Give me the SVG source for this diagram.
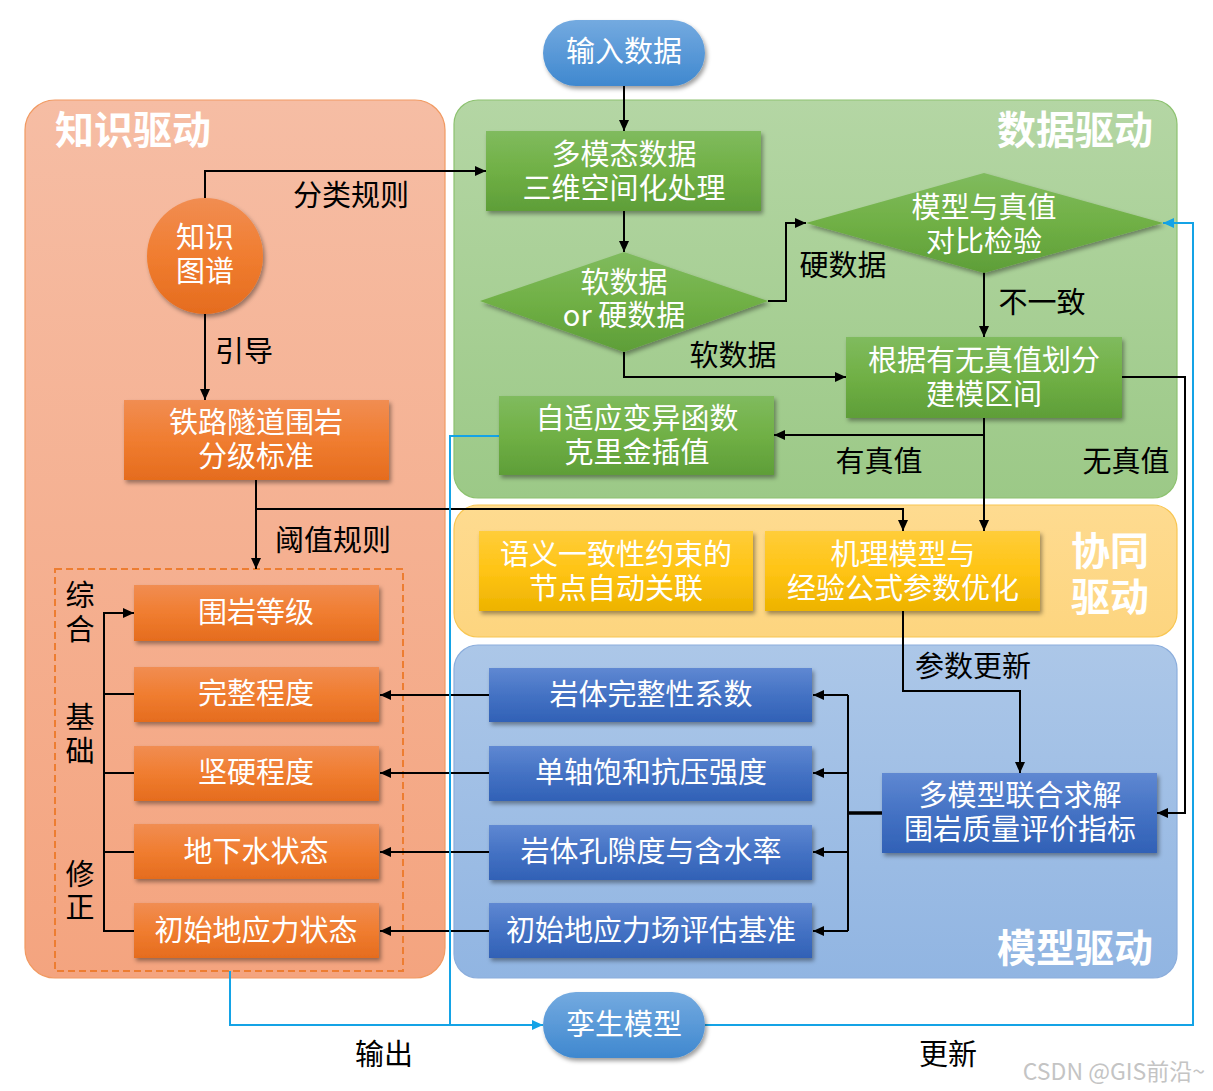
<svg xmlns="http://www.w3.org/2000/svg" width="1213" height="1091" viewBox="0 0 1213 1091">
  <defs>
    <linearGradient id="gPanelK" x1="0" y1="0" x2="0" y2="1">
      <stop offset="0" stop-color="#F6BDA4"/>
      <stop offset="1" stop-color="#F4A47F"/>
    </linearGradient>
    <linearGradient id="gPanelD" x1="0" y1="0" x2="0" y2="1">
      <stop offset="0" stop-color="#B4D6A4"/>
      <stop offset="1" stop-color="#9CC987"/>
    </linearGradient>
    <linearGradient id="gPanelC" x1="0" y1="0" x2="0" y2="1">
      <stop offset="0" stop-color="#FEDB90"/>
      <stop offset="1" stop-color="#FDD57F"/>
    </linearGradient>
    <linearGradient id="gPanelM" x1="0" y1="0" x2="0" y2="1">
      <stop offset="0" stop-color="#ACC7E8"/>
      <stop offset="1" stop-color="#91B5E2"/>
    </linearGradient>
    <linearGradient id="gGreen" x1="0" y1="0" x2="0" y2="1">
      <stop offset="0" stop-color="#80BB5E"/>
      <stop offset="0.5" stop-color="#70B045"/>
      <stop offset="1" stop-color="#5E9E38"/>
    </linearGradient>
    <linearGradient id="gOrange" x1="0" y1="0" x2="0" y2="1">
      <stop offset="0" stop-color="#F18D52"/>
      <stop offset="0.5" stop-color="#F07D30"/>
      <stop offset="1" stop-color="#E56C1E"/>
    </linearGradient>
    <linearGradient id="gYellow" x1="0" y1="0" x2="0" y2="1">
      <stop offset="0" stop-color="#FFCD3A"/>
      <stop offset="0.5" stop-color="#FFC414"/>
      <stop offset="1" stop-color="#EDB300"/>
    </linearGradient>
    <linearGradient id="gBlue" x1="0" y1="0" x2="0" y2="1">
      <stop offset="0" stop-color="#5F88D2"/>
      <stop offset="0.5" stop-color="#4472C4"/>
      <stop offset="1" stop-color="#3161B6"/>
    </linearGradient>
    <linearGradient id="gPill" x1="0" y1="0" x2="0" y2="1">
      <stop offset="0" stop-color="#74AAE0"/>
      <stop offset="1" stop-color="#3F88CF"/>
    </linearGradient>
    <filter id="shadow" x="-20%" y="-20%" width="140%" height="150%">
      <feDropShadow dx="2" dy="3" stdDeviation="2.2" flood-color="#000" flood-opacity="0.38"/>
    </filter>
    <marker id="arrow" markerUnits="userSpaceOnUse" markerWidth="11" markerHeight="10" refX="11" refY="5" orient="auto">
      <path d="M0,0 L11,5 L0,10 z" fill="#000"/>
    </marker>
    <marker id="arrowBlue" markerUnits="userSpaceOnUse" markerWidth="11" markerHeight="10" refX="11" refY="5" orient="auto">
      <path d="M0,0 L11,5 L0,10 z" fill="#14A3E6"/>
    </marker>
    <style>
      text { font-family: "Noto Sans CJK SC", "Noto Sans", sans-serif; }
      .nt { fill: #fff; font-size: 29px; text-anchor: middle; }
      .lb { fill: #000; font-size: 29px; text-anchor: middle; }
      .title { fill: #fff; font-size: 39px; font-weight: bold; }
      .green { fill: url(#gGreen); filter: url(#shadow); }
      .orange { fill: url(#gOrange); filter: url(#shadow); }
      .yellow { fill: url(#gYellow); filter: url(#shadow); }
      .blue { fill: url(#gBlue); filter: url(#shadow); }
      .pill { fill: url(#gPill); filter: url(#shadow); }
      .ln { fill: none; stroke: #000; stroke-width: 2; }
      .lnb { fill: none; stroke: #14A3E6; stroke-width: 2; }
    </style>
  </defs>

  <rect width="1213" height="1091" fill="#fff"/>

  <!-- background panels -->
  <g id="panels">
    <rect id="panel-knowledge" x="25" y="100" width="420" height="878" rx="30" fill="url(#gPanelK)" stroke="#F19A62" stroke-width="1.2"/>
    <rect id="panel-data" x="454" y="100" width="723" height="398" rx="24" fill="url(#gPanelD)" stroke="#8DC270" stroke-width="1.2"/>
    <rect id="panel-collab" x="454" y="505" width="723" height="132" rx="24" fill="url(#gPanelC)" stroke="#F8C653" stroke-width="1.2"/>
    <rect id="panel-model" x="454" y="645" width="723" height="333" rx="24" fill="url(#gPanelM)" stroke="#8CAEDC" stroke-width="1.2"/>
    <text class="title" x="55" y="144">知识驱动</text>
    <text class="title" x="1153" y="144" text-anchor="end">数据驱动</text>
    <text class="title" text-anchor="middle"><tspan x="1110" y="565">协同</tspan><tspan x="1110" dy="46">驱动</tspan></text>
    <text class="title" x="1153" y="962" text-anchor="end">模型驱动</text>
    <rect id="group-indicators" x="55" y="569" width="348" height="402" fill="none" stroke="#ED7D31" stroke-width="2" stroke-dasharray="7,4"/>
  </g>

  <!-- connectors -->
  <g id="connectors">
    <path class="ln" d="M624,86 V131" marker-end="url(#arrow)"/>
    <path class="ln" d="M624,211 V252" marker-end="url(#arrow)"/>
    <path class="ln" d="M205,199 V171 H486" marker-end="url(#arrow)"/>
    <path class="ln" d="M205,313 V400" marker-end="url(#arrow)"/>
    <path class="ln" d="M768,301 H786 V223 H806" marker-end="url(#arrow)"/>
    <path class="ln" d="M624,352 V377 H846" marker-end="url(#arrow)"/>
    <path class="ln" d="M984,272 V337" marker-end="url(#arrow)"/>
    <path class="ln" d="M984,418 V531" marker-end="url(#arrow)"/>
    <path class="ln" d="M984,435 H774" marker-end="url(#arrow)"/>
    <path class="ln" d="M1122,377 H1185 V813 H1157" marker-end="url(#arrow)"/>
    <path class="ln" d="M256,480 V569" marker-end="url(#arrow)"/>
    <path class="ln" d="M256,509 H903 V531" marker-end="url(#arrow)"/>
    <path class="ln" d="M903,611 V691 H1020 V773" marker-end="url(#arrow)"/>
    <!-- indicators into the grade box -->
    <path class="ln" d="M134,931 H104 V613 H134" marker-end="url(#arrow)"/>
    <path class="ln" d="M104,694 H134 M104,773 H134 M104,852 H134"/>
    <!-- blue parameters to indicators -->
    <path class="ln" d="M489,695 H380" marker-end="url(#arrow)"/>
    <path class="ln" d="M489,773 H380" marker-end="url(#arrow)"/>
    <path class="ln" d="M489,852 H380" marker-end="url(#arrow)"/>
    <path class="ln" d="M489,931 H380" marker-end="url(#arrow)"/>
    <!-- joint solution fan-out -->
    <path d="M882,813 H848" fill="none" stroke="#000" stroke-width="3.5"/>
    <path class="ln" d="M848,695 V931"/>
    <path class="ln" d="M848,695 H813" marker-end="url(#arrow)"/>
    <path class="ln" d="M848,773 H813" marker-end="url(#arrow)"/>
    <path class="ln" d="M848,852 H813" marker-end="url(#arrow)"/>
    <path class="ln" d="M848,931 H813" marker-end="url(#arrow)"/>
    <!-- twin model loop -->
    <path class="lnb" d="M499,436 H450 V1025"/>
    <path class="lnb" d="M230,971 V1025 H543" marker-end="url(#arrowBlue)"/>
    <path class="lnb" d="M705,1025 H1193 V223 H1163" marker-end="url(#arrowBlue)"/>
  </g>

  <!-- connector labels -->
  <g id="labels">
    <text class="lb" x="351" y="206">分类规则</text>
    <text class="lb" x="244" y="362">引导</text>
    <text class="lb" x="843" y="276">硬数据</text>
    <text class="lb" x="1042" y="313">不一致</text>
    <text class="lb" x="733" y="366">软数据</text>
    <text class="lb" x="879" y="472">有真值</text>
    <text class="lb" x="1126" y="472">无真值</text>
    <text class="lb" x="333" y="551">阈值规则</text>
    <text class="lb" x="973" y="677">参数更新</text>
    <text class="lb" x="384" y="1065">输出</text>
    <text class="lb" x="948" y="1065">更新</text>
    <text class="lb"><tspan x="80" y="606">综</tspan><tspan x="80" dy="34">合</tspan></text>
    <text class="lb"><tspan x="80" y="728">基</tspan><tspan x="80" dy="34">础</tspan></text>
    <text class="lb"><tspan x="80" y="885">修</tspan><tspan x="80" dy="33">正</tspan></text>
  </g>

  <!-- nodes -->
  <g id="n-input">
    <rect class="pill" x="543" y="20" width="162" height="66" rx="33"/>
    <text class="nt" x="624" y="62">输入数据</text>
  </g>
  <g id="n-multimodal">
    <rect class="green" x="486" y="131" width="275" height="80"/>
    <text class="nt"><tspan x="624" y="165">多模态数据</tspan><tspan x="624" dy="34">三维空间化处理</tspan></text>
  </g>
  <g id="n-datatype">
    <polygon class="green" points="624,252 768,301 624,352 480,301"/>
    <text class="nt"><tspan x="624" y="293">软数据</tspan><tspan x="624" dy="33">or 硬数据</tspan></text>
  </g>
  <g id="n-check">
    <polygon class="green" points="984,173 1163,223 984,273 806,223"/>
    <text class="nt"><tspan x="984" y="218">模型与真值</tspan><tspan x="984" dy="34">对比检验</tspan></text>
  </g>
  <g id="n-interval">
    <rect class="green" x="846" y="337" width="276" height="81"/>
    <text class="nt"><tspan x="984" y="371">根据有无真值划分</tspan><tspan x="984" dy="34">建模区间</tspan></text>
  </g>
  <g id="n-kriging">
    <rect class="green" x="499" y="396" width="275" height="79"/>
    <text class="nt"><tspan x="637" y="429">自适应变异函数</tspan><tspan x="637" dy="34">克里金插值</tspan></text>
  </g>
  <g id="n-kg">
    <circle class="orange" cx="205" cy="256" r="58"/>
    <text class="nt"><tspan x="205" y="248">知识</tspan><tspan x="205" dy="34">图谱</tspan></text>
  </g>
  <g id="n-standard">
    <rect class="orange" x="124" y="400" width="265" height="80"/>
    <text class="nt"><tspan x="256" y="433">铁路隧道围岩</tspan><tspan x="256" dy="34">分级标准</tspan></text>
  </g>
  <g id="n-grade">
    <rect class="orange" x="134" y="585" width="245" height="56"/>
    <text class="nt" x="256" y="623">围岩等级</text>
  </g>
  <g id="n-integrity">
    <rect class="orange" x="134" y="667" width="245" height="55"/>
    <text class="nt" x="256" y="704">完整程度</text>
  </g>
  <g id="n-hardness">
    <rect class="orange" x="134" y="746" width="245" height="55"/>
    <text class="nt" x="256" y="783">坚硬程度</text>
  </g>
  <g id="n-groundwater">
    <rect class="orange" x="134" y="824" width="245" height="55"/>
    <text class="nt" x="256" y="862">地下水状态</text>
  </g>
  <g id="n-stress">
    <rect class="orange" x="134" y="903" width="245" height="55"/>
    <text class="nt" x="256" y="941">初始地应力状态</text>
  </g>
  <g id="n-semantic">
    <rect class="yellow" x="479" y="531" width="274" height="80"/>
    <text class="nt"><tspan x="616" y="565">语义一致性约束的</tspan><tspan x="616" dy="34">节点自动关联</tspan></text>
  </g>
  <g id="n-mechanism">
    <rect class="yellow" x="765" y="531" width="275" height="80"/>
    <text class="nt"><tspan x="903" y="565">机理模型与</tspan><tspan x="903" dy="34">经验公式参数优化</tspan></text>
  </g>
  <g id="n-kv">
    <rect class="blue" x="489" y="668" width="323" height="54"/>
    <text class="nt" x="651" y="705">岩体完整性系数</text>
  </g>
  <g id="n-ucs">
    <rect class="blue" x="489" y="746" width="323" height="55"/>
    <text class="nt" x="651" y="783">单轴饱和抗压强度</text>
  </g>
  <g id="n-porosity">
    <rect class="blue" x="489" y="825" width="323" height="55"/>
    <text class="nt" x="651" y="862">岩体孔隙度与含水率</text>
  </g>
  <g id="n-stressfield">
    <rect class="blue" x="489" y="903" width="323" height="55"/>
    <text class="nt" x="651" y="941">初始地应力场评估基准</text>
  </g>
  <g id="n-joint">
    <rect class="blue" x="882" y="773" width="275" height="80"/>
    <text class="nt"><tspan x="1020" y="806">多模型联合求解</tspan><tspan x="1020" dy="34">围岩质量评价指标</tspan></text>
  </g>
  <g id="n-twin">
    <rect class="pill" x="543" y="992" width="162" height="66" rx="33"/>
    <text class="nt" x="624" y="1035">孪生模型</text>
  </g>

  <text x="1205" y="1080" text-anchor="end" font-size="23" fill="#C4C4C4">CSDN @GIS前沿~</text>
</svg>
